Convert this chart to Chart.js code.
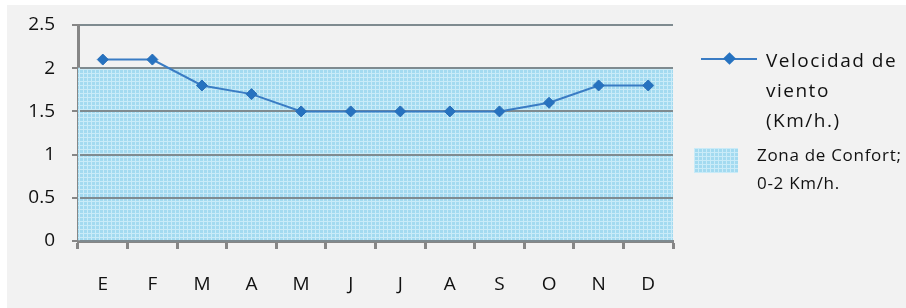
<!DOCTYPE html>
<html>
<head>
<meta charset="utf-8">
<script src="https://cdn.jsdelivr.net/npm/chart.js@4"></script>
<style>
  body { margin: 0; background: #ffffff; overflow: hidden; }
  #panel { position: absolute; left: 7px; top: 5px; width: 899px; height: 303px; background: #f2f2f2; }
  #chartWrap { position: absolute; left: 0; top: 0; }
  .leg { position: absolute; font-family: "Open Sans", sans-serif; color: #111; white-space: nowrap; }
  #legLineSample { position: absolute; left: 694px; top: 53px; width: 56px; height: 2px; background: #3a7cc4; }
  #legDiamond { position: absolute; left: 718px; top: 49px; width: 9px; height: 9px; background: #2672c0; transform: rotate(45deg); }
  #legLineText { left: 759px; top: 40px; font-size: 19px; line-height: 30px; letter-spacing: 1.5px; }
  #swatch { position: absolute; left: 687px; top: 143px; }
  #legZoneText { left: 750px; top: 136px; font-size: 17px; line-height: 28px; letter-spacing: 0.7px; }
</style>
</head>
<body>
<div id="panel">
  <div id="chartWrap"><canvas id="windChart" width="899" height="303"></canvas></div>
  <div id="legLineSample"></div>
  <div id="legDiamond"></div>
  <div class="leg" id="legLineText">Velocidad de<br>viento<br>(Km/h.)</div>
  <canvas id="swatch" width="44" height="25"></canvas>
  <div class="leg" id="legZoneText">Zona de Confort;<br>0-2 Km/h.</div>
</div>
<script>
const months = ['E', 'F', 'M', 'A', 'M', 'J', 'J', 'A', 'S', 'O', 'N', 'D'];
const windSpeed = [2.1, 2.1, 1.8, 1.7, 1.5, 1.5, 1.5, 1.5, 1.5, 1.6, 1.8, 1.8];
const comfortZone = [2, 2, 2, 2, 2, 2, 2, 2, 2, 2, 2, 2];
const yTicks = [0, 0.5, 1, 1.5, 2, 2.5];

// checkered light blue fill like the excel pattern
function makePattern(ctx) {
    const p = document.createElement('canvas');
    p.width = 4;
    p.height = 4;
    const c = p.getContext('2d');
    c.fillStyle = '#a3daf0';
    c.fillRect(0, 0, 4, 4);
    c.fillStyle = '#c9ebf8';
    c.fillRect(0, 0, 4, 1);
    c.fillRect(0, 0, 1, 4);
    return ctx.createPattern(p, 'repeat');
}

const ctx = document.getElementById('windChart').getContext('2d');
const zonePattern = makePattern(ctx);

// legend swatch
const sw = document.getElementById('swatch').getContext('2d');
sw.fillStyle = makePattern(sw);
sw.fillRect(0, 0, 44, 25);

// redraw the grid over the zone fill, but under the line
const gridOnTop = {
    id: 'gridOnTop',
    beforeDatasetDraw(chart, args) {
        if (args.index === 0) {
            chart.scales.y.drawGrid(chart.chartArea);
            chart.scales.x.drawGrid(chart.chartArea);
        }
    }
};

const axisColor = '#868686';
const tickFont = { family: 'Open Sans', size: 19 };

new Chart(ctx, {
    data: {
        labels: months,
        datasets: [{
            type: 'line',
            label: 'Velocidad de viento (Km/h.)',
            data: windSpeed,
            borderColor: '#3a7cc4',
            backgroundColor: '#2672c0',
            borderWidth: 2,
            pointStyle: 'rectRot',
            pointRadius: 5.5,
            pointBorderWidth: 1,
            pointBorderColor: '#2a6fb8',
            tension: 0,
            order: 1
        }, {
            type: 'bar',
            label: 'Zona de Confort; 0-2 Km/h.',
            data: comfortZone,
            backgroundColor: zonePattern,
            borderWidth: 0,
            barPercentage: 1,
            categoryPercentage: 1,
            order: 2
        }]
    },
    options: {
        responsive: false,
        animation: false,
        layout: { padding: { top: 0, right: 233, left: 0, bottom: 0 } },
        plugins: { legend: { display: false }, tooltip: { enabled: false } },
        scales: {
            x: {
                offset: true,
                grid: { drawOnChartArea: false, offset: true, tickLength: 8, tickWidth: 3, tickColor: axisColor },
                border: { display: true, color: axisColor, width: 3 },
                ticks: { color: '#111', padding: 24, font: tickFont },
                afterFit: s => { s.height = 67; }
            },
            y: {
                min: 0,
                max: 2.5,
                afterBuildTicks: s => { s.ticks = yTicks.map(v => ({ value: v })); },
                grid: { color: '#7f8b90', lineWidth: 2, tickLength: 6, tickColor: axisColor, tickWidth: 2 },
                border: { display: true, color: axisColor, width: 3 },
                ticks: { color: '#111', padding: 17, font: tickFont, callback: v => String(v) },
                afterFit: s => { s.width = 71; s.paddingTop = 20; }
            }
        }
    },
    plugins: [gridOnTop]
});
</script>
</body>
</html>
